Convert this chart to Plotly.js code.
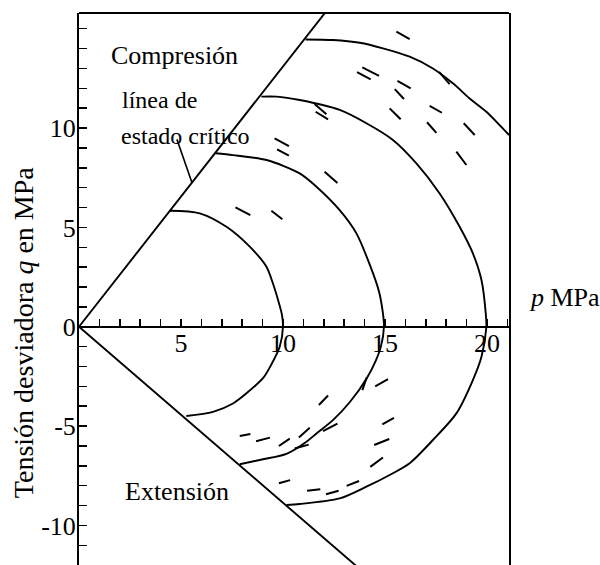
<!DOCTYPE html>
<html><head><meta charset="utf-8">
<script src="https://cdn.plot.ly/plotly-3.0.1.min.js"></script>
<style>html,body{margin:0;padding:0;background:#fff}</style>
</head><body>
<div id="chart" style="width:600px;height:565px"></div>
<script>
// Axis ranges and ticks
const xRange = [0, 21.08];
const yRange = [-11.99, 15.79];
const xTickVals = [1,2,3,4,5,6,7,8,9,10,11,12,13,14,15,16,17,18,19,20,21];
const xTickText = ['','','','','5','','','','','10','','','','','15','','','','','20',''];
const yTickVals = [-11,-10,-9,-8,-7,-6,-5,-4,-3,-2,-1,0,1,2,3,4,5,6,7,8,9,10,11,12,13,14,15];
const yTickText = ['','-10','','','','','-5','','','','','0','','','','','5','','','','','10','','','','',''];

// Critical state lines
const compLineP = [0, 12.1];
const compLineQ = [0, 15.85];
const extLineP = [0, 14.0];
const extLineQ = [0, -12.4];
const pointerP = [4.80, 5.54];
const pointerQ = [9.43, 7.25];

// Yield curves
const curve1P = [4.45, 5.92, 7.23, 8.37, 9.19, 9.50, 9.80, 9.95, 10.0, 9.84, 9.43, 9.05, 8.21, 7.55, 6.57, 5.26];
const curve1Q = [5.84, 5.71, 5.03, 4.03, 3.02, 2.20, 1.20, 0.60, 0.0, -1.01, -1.90, -2.55, -3.35, -3.86, -4.28, -4.49];
const curve2P = [6.70, 7.55, 9.19, 10.82, 11.64, 12.78, 13.60, 14.30, 14.70, 14.90, 14.95, 14.80, 14.55, 14.10, 13.27, 12.45, 11.64, 11.15, 10.17, 9.02, 7.88];
const curve2Q = [8.73, 8.64, 8.39, 7.72, 7.05, 5.87, 4.70, 3.00, 1.80, 0.67, 0.0, -1.0, -1.7, -2.6, -3.8, -4.7, -5.37, -5.79, -6.40, -6.67, -6.92];
const curve3P = [8.94, 9.68, 10.82, 12.78, 14.09, 15.39, 16.54, 17.68, 18.66, 19.31, 19.73, 19.94, 19.97, 19.73, 19.31, 18.50, 17.35, 16.21, 15.23, 14.09, 12.78, 10.82, 10.17];
const curve3Q = [11.58, 11.58, 11.41, 10.91, 10.24, 9.40, 8.22, 6.71, 5.03, 3.69, 2.35, 0.67, 0.0, -1.51, -2.68, -4.36, -5.70, -6.87, -7.46, -8.05, -8.64, -8.92, -8.97];
const curve4P = [11.11, 12.45, 13.76, 14.90, 16.21, 17.35, 18.33, 19.15, 19.97, 20.62, 21.08];
const curve4Q = [14.46, 14.43, 14.29, 14.01, 13.59, 13.00, 12.25, 11.49, 10.82, 10.15, 9.65];

// Short dash marks (pairs of end points, separated by null)
const dashP = [15.56,16.21,null, 13.89,14.71,null, 13.63,14.30,null, 15.61,16.26,null, 15.48,15.93,null,
  17.65,18.17,null, 15.23,15.77,null, 17.19,17.79,null, 17.06,17.52,null, 18.86,19.40,null,
  11.55,12.13,null, 11.60,12.21,null, 18.50,18.99,null, 12.04,12.67,null, 9.59,10.29,null,
  9.71,10.29,null, 7.67,8.40,null, 9.43,9.97,null,
  11.76,12.21,null, 7.88,8.40,null, 8.68,9.36,null, 9.80,10.33,null, 10.78,11.31,null,
  11.96,12.67,null, 13.89,14.10,null, 14.52,15.15,null, 14.87,15.44,null, 14.47,15.21,null,
  14.28,14.90,null, 9.80,10.35,null, 11.18,11.83,null, 12.11,12.73,null, 13.12,13.73,null,
  10.57,11.26];
const dashQ = [14.85,14.48,null, 13.05,12.63,null, 12.82,12.45,null, 12.38,12.00,null, 11.96,11.46,null,
  12.83,12.21,null, 10.99,10.44,null, 11.12,10.77,null, 10.29,9.76,null, 10.24,9.65,null,
  11.21,10.70,null, 10.82,10.44,null, 8.81,8.14,null, 7.80,7.23,null, 9.48,9.09,null,
  8.93,8.61,null, 6.01,5.62,null, 5.84,5.41,null,
  -3.94,-3.46,null, -5.50,-5.40,null, -5.76,-5.58,null, -6.00,-5.63,null, -5.57,-5.08,null,
  -5.25,-4.87,null, -3.19,-2.56,null, -3.00,-2.64,null, -4.91,-4.58,null, -5.95,-5.65,null,
  -7.05,-6.58,null, -7.88,-7.72,null, -8.25,-8.18,null, -8.43,-8.25,null, -8.01,-7.76,null,
  -6.13,-5.93];

const FONT = '"Liberation Serif", "Times New Roman", serif';
function tr(x, y, w, smooth) {
  const line = {color:'#000', width:w||1.9};
  if (smooth) { line.shape = 'spline'; line.smoothing = 0.8; }
  return {x:x, y:y, type:'scatter', mode:'lines', line:line, hoverinfo:'skip', showlegend:false, cliponaxis:true, connectgaps:false};
}
const traces = [
  tr(compLineP, compLineQ), tr(extLineP, extLineQ), tr(pointerP, pointerQ, 1.6),
  tr(curve1P, curve1Q, 1.9, true), tr(curve2P, curve2Q, 1.9, true), tr(curve3P, curve3Q, 1.9, true), tr(curve4P, curve4Q, 1.9, true),
  tr(dashP, dashQ, 2)
];

const layout = {
  width:600, height:565,
  margin:{l:79, r:91, t:13, b:0, pad:0},
  paper_bgcolor:'#fff', plot_bgcolor:'#fff',
  showlegend:false,
  font:{family:FONT, color:'#000', size:26},
  xaxis:{range:xRange, anchor:'free', position:(0 - yRange[0])/(yRange[1]-yRange[0]),
    showline:true, linewidth:2, linecolor:'#000', showgrid:false, zeroline:false,
    ticks:'inside', ticklen:7, tickwidth:1.5, tickcolor:'#000', ticklabelstandoff:-7,
    tickmode:'array', tickvals:xTickVals, ticktext:xTickText,
    tickfont:{family:FONT, size:26, color:'#000'}},
  yaxis:{range:yRange, showline:true, mirror:true, linewidth:2, linecolor:'#000', showgrid:false, zeroline:false,
    ticks:'inside', ticklen:8, tickwidth:1.5, tickcolor:'#000', ticklabelstandoff:-4,
    tickmode:'array', tickvals:yTickVals, ticktext:yTickText,
    tickfont:{family:FONT, size:26, color:'#000'}},
  shapes:[{type:'line', xref:'paper', yref:'paper', x0:0, x1:1, y0:1, y1:1, line:{color:'#000', width:2}}],
  annotations:[
    {text:'Compresión', x:4.70, y:13.67, xref:'x', yref:'y', xanchor:'center', yanchor:'middle', showarrow:false, font:{family:FONT, size:26, color:'#000'}},
    {text:'línea de', x:2.0, y:11.43, xref:'x', yref:'y', xanchor:'left', yanchor:'middle', showarrow:false, font:{family:FONT, size:24, color:'#000'}},
    {text:'estado crítico', x:1.96, y:9.62, xref:'x', yref:'y', xanchor:'left', yanchor:'middle', showarrow:false, font:{family:FONT, size:24, color:'#000'}},
    {text:'Extensión', x:2.16, y:-8.27, xref:'x', yref:'y', xanchor:'left', yanchor:'middle', showarrow:false, font:{family:FONT, size:26, color:'#000'}},
    {text:'<i>p</i> MPa', x:1.041, y:0.4845, xref:'paper', yref:'paper', xanchor:'left', yanchor:'middle', showarrow:false, font:{family:FONT, size:26, color:'#000'}},
    {text:'Tensión desviadora <i>q</i> en MPa', x:-0.129, y:0.421, xref:'paper', yref:'paper', xanchor:'center', yanchor:'middle', textangle:-90, showarrow:false, font:{family:FONT, size:28, color:'#000'}}
  ]
};
Plotly.newPlot('chart', traces, layout, {displayModeBar:false, staticPlot:true});
</script>
</body></html>
